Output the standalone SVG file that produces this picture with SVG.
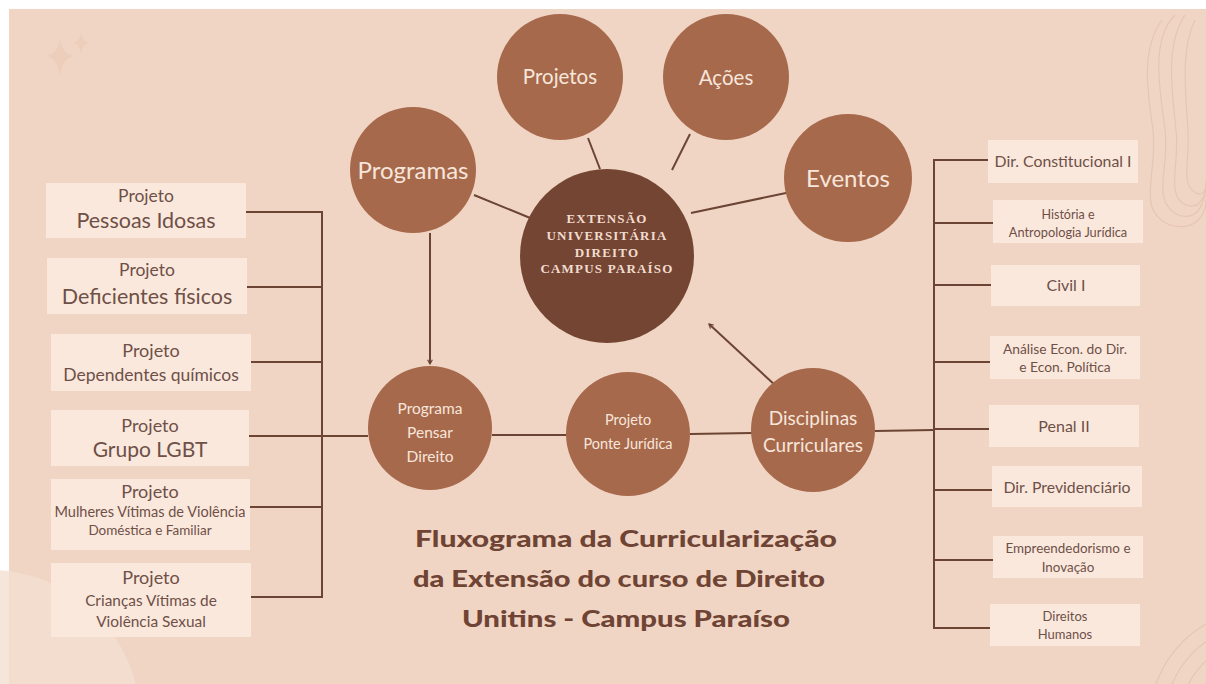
<svg xmlns="http://www.w3.org/2000/svg" width="1206" height="684" viewBox="0 0 1206 684">
<defs>
<style>
.bg{fill:#F0D5C4}
.box{fill:#FBE8DD}
.c{fill:#A7694C}
.cd{fill:#744533}
.ln{stroke:#6B4434;stroke-width:2;fill:none}
.bt{font-family:Lato,"Liberation Sans",sans-serif;fill:#6E5047;text-anchor:middle}
.ct{font-family:Lato,"Liberation Sans",sans-serif;fill:#F7E6DB;text-anchor:middle}
.st{font-family:"Liberation Serif",serif;font-weight:bold;fill:#F1DCCF;text-anchor:middle;font-size:13px;letter-spacing:1.2px}
.tt{font-family:Lato,"Liberation Sans",sans-serif;font-weight:900;fill:#6F4434;font-size:22px}
.deco{fill:none;stroke:#E6C6B2;stroke-width:1.2}
</style>
<marker id="ah" viewBox="0 0 10 10" refX="8" refY="5" markerWidth="6" markerHeight="6" orient="auto-start-reverse" markerUnits="userSpaceOnUse">
<path d="M1,1 L8,5 L1,9" fill="none" stroke="#6B4434" stroke-width="2"/>
</marker>
</defs>
<rect width="1206" height="684" fill="#ffffff"/>
<rect class="bg" x="9" y="9" width="1197" height="675"/>
<!-- decorations -->
<g id="decor">
<path d="M60,38 Q62,54 74,56 Q62,58 60,76 Q58,58 46,56 Q58,54 60,38Z" fill="#EBCBB6" opacity="0.7"/>
<path d="M81,32 Q82,42 89,43 Q82,44 81,54 Q80,44 73,43 Q80,42 81,32Z" fill="#EBCBB6" opacity="0.7"/>
<circle cx="-10" cy="720" r="150" fill="#F4DFD2" opacity="0.8"/>
<path class="deco" d="M1175,15 C1150,40 1160,90 1165,130 C1170,170 1150,200 1178,215 C1200,222 1206,200 1206,180"/>
<path class="deco" d="M1185,15 C1165,45 1172,90 1176,130 C1180,165 1165,195 1186,205 C1200,210 1206,195 1206,185"/>
<path class="deco" d="M1195,20 C1180,50 1186,95 1188,130 C1190,160 1180,185 1196,193 C1203,196 1206,190 1206,186"/>
<path class="deco" d="M1162,20 C1140,50 1148,95 1153,130 C1158,175 1135,210 1170,225 C1195,232 1206,215 1206,200"/>
<circle class="deco" cx="1260" cy="720" r="110"/>
<circle class="deco" cx="1260" cy="720" r="95"/>
<circle class="deco" cx="1260" cy="720" r="80"/>
<circle class="deco" cx="1260" cy="720" r="65"/>
</g>
<!-- connectors -->
<g id="connectors" class="ln">
<line x1="474" y1="195" x2="540" y2="222"/>
<line x1="588" y1="138" x2="600" y2="169"/>
<line x1="690" y1="134" x2="672" y2="170"/>
<line x1="786" y1="193" x2="691" y2="213"/>
<line x1="430" y1="233" x2="430" y2="364" marker-end="url(#ah)"/>
<line x1="776" y1="386" x2="709" y2="324" marker-end="url(#ah)"/>
<line x1="246" y1="212" x2="322" y2="212"/>
<line x1="247" y1="287" x2="322" y2="287"/>
<line x1="251" y1="362" x2="322" y2="362"/>
<line x1="249" y1="436" x2="368" y2="436"/>
<line x1="250" y1="507" x2="322" y2="507"/>
<line x1="251" y1="597" x2="322" y2="597"/>
<line x1="322" y1="211" x2="322" y2="598"/>
<line x1="492" y1="435" x2="566" y2="435"/>
<line x1="690" y1="434" x2="752" y2="433"/>
<line x1="875" y1="431" x2="934" y2="430"/>
<line x1="934" y1="159" x2="934" y2="629"/>
<line x1="934" y1="160" x2="988" y2="160"/>
<line x1="934" y1="223" x2="993" y2="223"/>
<line x1="934" y1="285" x2="991" y2="285"/>
<line x1="934" y1="362" x2="990" y2="362"/>
<line x1="934" y1="429" x2="989" y2="429"/>
<line x1="934" y1="490" x2="992" y2="490"/>
<line x1="934" y1="560" x2="993" y2="560"/>
<line x1="934" y1="628" x2="990" y2="628"/>
</g>
<!-- circles -->
<g id="projetos"><circle class="c" cx="560" cy="77" r="63"/><text class="ct" x="560" y="84" font-size="20.5">Projetos</text></g>
<g id="acoes"><circle class="c" cx="726" cy="77" r="63"/><text class="ct" x="726" y="85" font-size="20.5">Ações</text></g>
<g id="programas"><circle class="c" cx="413" cy="170" r="63"/><text class="ct" x="413" y="179" font-size="24">Programas</text></g>
<g id="eventos"><circle class="c" cx="848" cy="178" r="64"/><text class="ct" x="848" y="187" font-size="24">Eventos</text></g>
<g id="extensao"><circle class="cd" cx="607" cy="256" r="87"/>
<text class="st" x="607" y="223">EXTENSÃO</text>
<text class="st" x="607" y="240">UNIVERSITÁRIA</text>
<text class="st" x="607" y="257">DIREITO</text>
<text class="st" x="607" y="273">CAMPUS PARAÍSO</text></g>
<g id="pensar"><circle class="c" cx="430" cy="428" r="62"/>
<text class="ct" x="430" y="414" font-size="15.5">Programa</text>
<text class="ct" x="430" y="438" font-size="15.5">Pensar</text>
<text class="ct" x="430" y="462" font-size="15.5">Direito</text></g>
<g id="ponte"><circle class="c" cx="628" cy="434" r="62"/>
<text class="ct" x="628" y="425" font-size="14.5">Projeto</text>
<text class="ct" x="628" y="449" font-size="14.5">Ponte Jurídica</text></g>
<g id="disciplinas"><circle class="c" cx="813" cy="430" r="62"/>
<text class="ct" x="813" y="425" font-size="19">Disciplinas</text>
<text class="ct" x="813" y="452" font-size="19">Curriculares</text></g>
<!-- left boxes -->
<g id="idosas"><rect class="box" x="46" y="183" width="200" height="55"/>
<text class="bt" x="146" y="202" font-size="17.5">Projeto</text>
<text class="bt" x="146" y="228" font-size="21.5">Pessoas Idosas</text></g>
<g id="deficientes"><rect class="box" x="47" y="258" width="200" height="56"/>
<text class="bt" x="147" y="276" font-size="17.5">Projeto</text>
<text class="bt" x="147" y="304" font-size="21.5">Deficientes físicos</text></g>
<g id="dependentes"><rect class="box" x="51" y="334" width="200" height="57"/>
<text class="bt" x="151" y="357" font-size="18">Projeto</text>
<text class="bt" x="151" y="381" font-size="17.5">Dependentes químicos</text></g>
<g id="lgbt"><rect class="box" x="51" y="410" width="198" height="56"/>
<text class="bt" x="150" y="432" font-size="18">Projeto</text>
<text class="bt" x="150" y="457" font-size="21">Grupo LGBT</text></g>
<g id="mulheres"><rect class="box" x="51" y="479" width="199" height="71"/>
<text class="bt" x="150" y="498" font-size="18">Projeto</text>
<text class="bt" x="150" y="517" font-size="14.5">Mulheres Vítimas de Violência</text>
<text class="bt" x="150" y="535" font-size="13.5">Doméstica e Familiar</text></g>
<g id="criancas"><rect class="box" x="51" y="563" width="200" height="74"/>
<text class="bt" x="151" y="584" font-size="18">Projeto</text>
<text class="bt" x="151" y="606" font-size="15.4">Crianças Vítimas de</text>
<text class="bt" x="151" y="627" font-size="15.4">Violência Sexual</text></g>
<!-- right boxes -->
<g id="constitucional"><rect class="box" x="988" y="140" width="150" height="43"/>
<text class="bt" x="1063" y="167" font-size="15.8">Dir. Constitucional I</text></g>
<g id="historia"><rect class="box" x="993" y="200" width="150" height="43"/>
<text class="bt" x="1068" y="219" font-size="12.5">História e</text>
<text class="bt" x="1068" y="237" font-size="12.8">Antropologia Jurídica</text></g>
<g id="civil"><rect class="box" x="991" y="265" width="149" height="41"/>
<text class="bt" x="1066" y="291" font-size="16">Civil I</text></g>
<g id="analise"><rect class="box" x="990" y="336" width="150" height="43"/>
<text class="bt" x="1065" y="354" font-size="13.8">Análise Econ. do Dir.</text>
<text class="bt" x="1065" y="372" font-size="13.8">e Econ. Política</text></g>
<g id="penal"><rect class="box" x="989" y="405" width="150" height="42"/>
<text class="bt" x="1064" y="432" font-size="16">Penal II</text></g>
<g id="previdenciario"><rect class="box" x="992" y="466" width="150" height="41"/>
<text class="bt" x="1067" y="493" font-size="15.8">Dir. Previdenciário</text></g>
<g id="empreendedorismo"><rect class="box" x="993" y="536" width="150" height="42"/>
<text class="bt" x="1068" y="553" font-size="13.4">Empreendedorismo e</text>
<text class="bt" x="1068" y="572" font-size="13.4">Inovação</text></g>
<g id="direitos"><rect class="box" x="990" y="604" width="150" height="42"/>
<text class="bt" x="1065" y="621" font-size="13">Direitos</text>
<text class="bt" x="1065" y="639" font-size="13">Humanos</text></g>
<!-- title -->
<g id="title">
<text class="tt" x="415" y="547" textLength="422" lengthAdjust="spacingAndGlyphs">Fluxograma da Curricularização</text>
<text class="tt" x="413" y="587" textLength="412" lengthAdjust="spacingAndGlyphs">da Extensão do curso de Direito</text>
<text class="tt" x="462" y="627" textLength="328" lengthAdjust="spacingAndGlyphs">Unitins - Campus Paraíso</text>
</g>
</svg>
